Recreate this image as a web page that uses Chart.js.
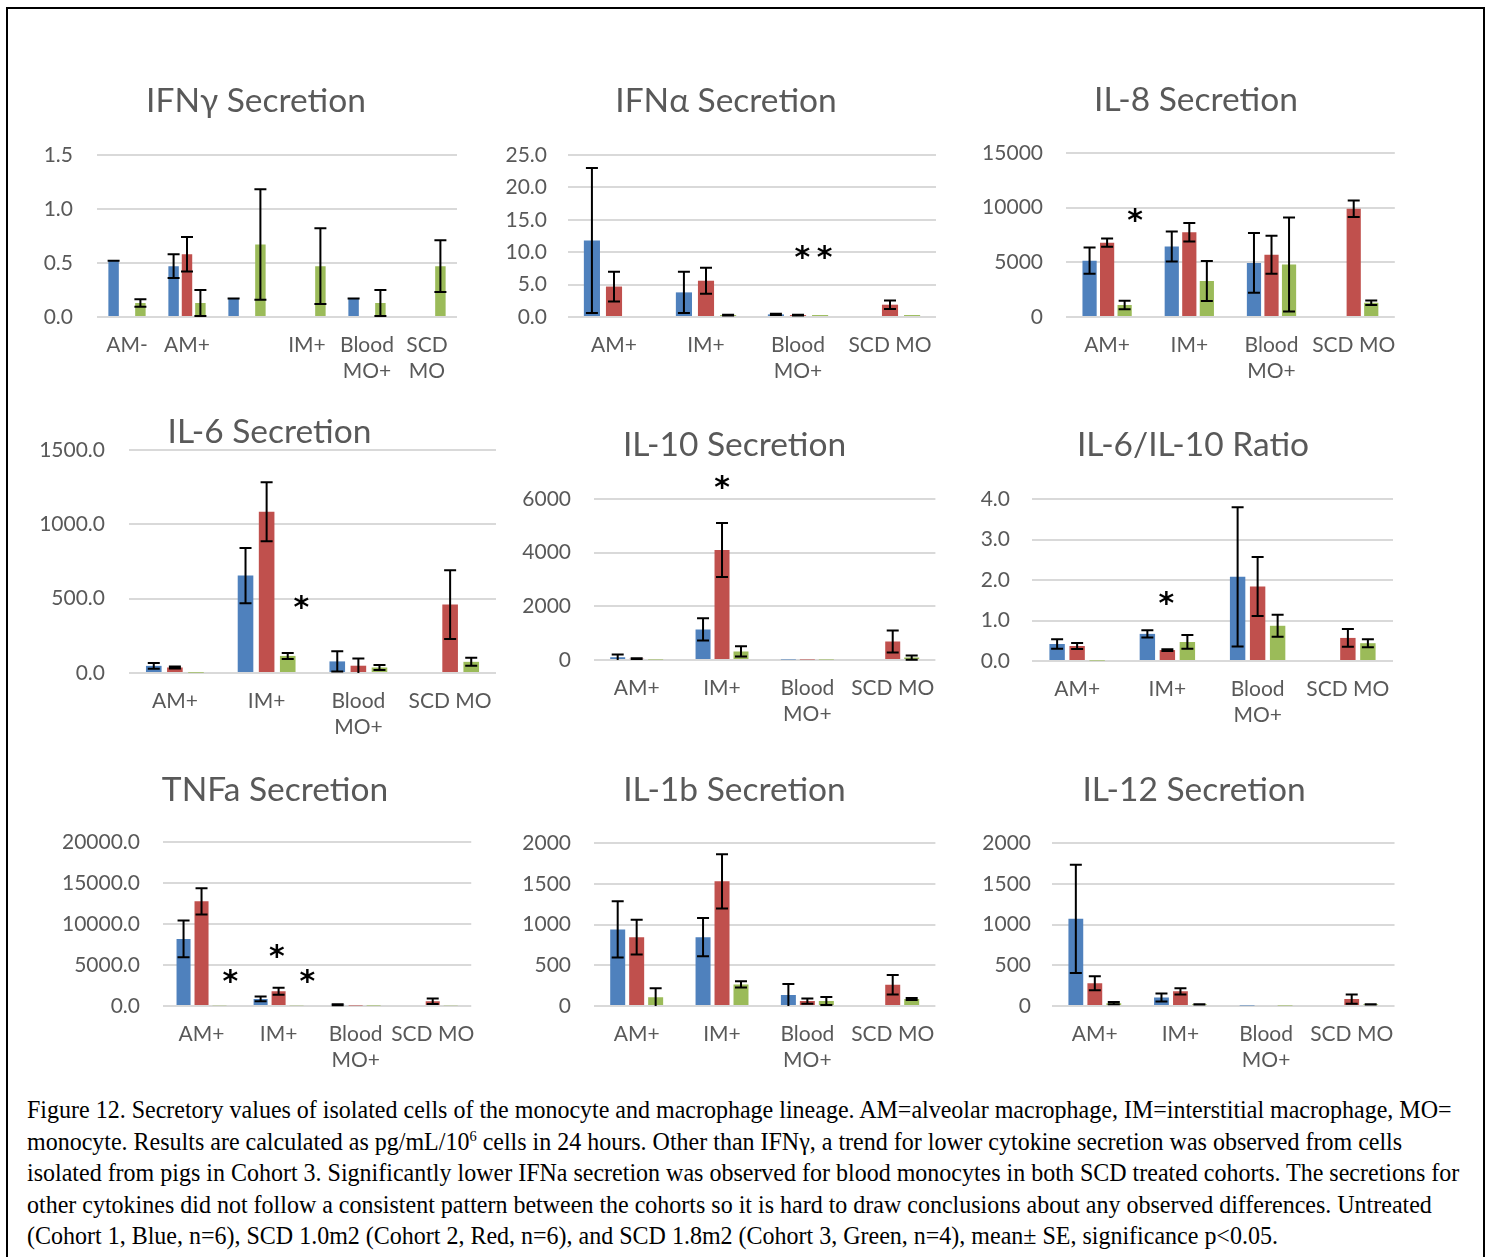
<!DOCTYPE html>
<html>
<head>
<meta charset="utf-8">
<script src="https://cdn.jsdelivr.net/npm/chart.js@4.4.1/dist/chart.umd.min.js"></script>
<style>
  html, body { margin: 0; padding: 0; background: #fff; }
  body { width: 1491px; height: 1257px; position: relative; overflow: hidden; }
  #frame { position: absolute; left: 6px; top: 7px; width: 1475px; height: 1300px; border: 2px solid #000; }
  canvas { position: absolute; }
  #caption { position: absolute; left: 27px; top: 1094px; font-family: "Liberation Serif", "Times New Roman", serif;
             font-size: 25px; line-height: 31.5px; color: #000; white-space: nowrap; transform-origin: 0 0; }
  #caption div { display: block; }
  #caption span { display: inline-block; }
  sup { font-size: 60%; vertical-align: 0; position: relative; top: -0.55em; line-height: 0; }
</style>
</head>
<body>
<div id="frame"></div>

<div id="caption">
  <div><span>Figure 12. Secretory values of isolated cells of the monocyte and macrophage lineage. AM=alveolar macrophage, IM=interstitial macrophage, MO=</span></div>
  <div><span>monocyte. Results are calculated as pg/mL/10<sup>6</sup> cells in 24 hours. Other than IFNγ, a trend for lower cytokine secretion was observed from cells</span></div>
  <div><span id="widestLine">isolated from pigs in Cohort 3. Significantly lower IFNa secretion was observed for blood monocytes in both SCD treated cohorts. The secretions for</span></div>
  <div><span>other cytokines did not follow a consistent pattern between the cohorts so it is hard to draw conclusions about any observed differences. Untreated</span></div>
  <div><span>(Cohort 1, Blue, n=6), SCD 1.0m2 (Cohort 2, Red, n=6), and SCD 1.8m2 (Cohort 3, Green, n=4), mean± SE, significance p&lt;0.05.</span></div>
</div>

<script>
// ---------- categories ----------
const ifngCategories = ['AM-', 'AM+', '', 'IM+', ['Blood', 'MO+'], ['SCD', 'MO']];
const cellCategories = ['AM+', 'IM+', ['Blood', 'MO+'], 'SCD MO'];

// ---------- IFNγ ----------
const ifngTicks      = [0, 0.5, 1.0, 1.5];
const ifngBlue       = [0.52, 0.47, 0.17, null, 0.17, null];
const ifngBlueErr    = [0, 0.11, 0, null, 0, null];
const ifngRed        = [null, 0.58, null, null, null, null];
const ifngRedErr     = [null, 0.16, null, null, null, null];
const ifngGreen      = [0.13, 0.13, 0.67, 0.47, 0.13, 0.47];
const ifngGreenErr   = [0.035, 0.12, 0.51, 0.35, 0.12, 0.24];
const ifngStars      = [];

// ---------- IFNα ----------
const ifnaTicks      = [0, 5, 10, 15, 20, 25];
const ifnaBlue       = [11.8, 3.8, 0.4, null];
const ifnaBlueErr    = [11.2, 3.2, 0.1, null];
const ifnaRed        = [4.7, 5.6, 0.3, 1.9];
const ifnaRedErr     = [2.3, 2.0, 0.05, 0.65];
const ifnaGreen      = [null, 0.3, 0.3, 0.3];
const ifnaGreenErr   = [null, 0.05, null, null];
const ifnaStars      = [[2, 1.2, 10], [2, 2.2, 10]];   // [category, bar slot, value]

// ---------- IL-8 ----------
const il8Ticks       = [0, 5000, 10000, 15000];
const il8Blue        = [5150, 6450, 4950, null];
const il8BlueErr     = [1200, 1370, 2730, null];
const il8Red         = [6800, 7750, 5700, 9900];
const il8RedErr      = [380, 850, 1740, 750];
const il8Green       = [1100, 3300, 4800, 1300];
const il8GreenErr    = [390, 1830, 4300, 200];
const il8Stars       = [[0, 2.6, 9300]];

// ---------- IL-6 ----------
const il6Ticks       = [0, 500, 1000, 1500];
const il6Blue        = [48, 655, 78, null];
const il6BlueErr     = [20, 185, 68, null];
const il6Red         = [37, 1085, 49, 460];
const il6RedErr      = [6, 198, 49, 231];
const il6Green       = [2, 115, 37, 75];
const il6GreenErr    = [null, 20, 17, 27];
const il6Stars       = [[1, 2.65, 475]];

// ---------- IL-10 ----------
const il10Ticks      = [0, 2000, 4000, 6000];
const il10Blue       = [100, 1140, 20, null];
const il10BlueErr    = [105, 415, null, null];
const il10Red        = [50, 4100, 20, 690];
const il10RedErr     = [15, 1010, null, 410];
const il10Green      = [20, 320, 20, 90];
const il10GreenErr   = [null, 190, null, 80];
const il10Stars      = [[1, 1, 6600]];

// ---------- IL-6/IL-10 ratio ----------
const ratioTicks     = [0, 1, 2, 3, 4];
const ratioBlue      = [0.42, 0.67, 2.08, null];
const ratioBlueErr   = [0.12, 0.09, 1.72, null];
const ratioRed       = [0.37, 0.27, 1.84, 0.57];
const ratioRedErr    = [0.075, 0.02, 0.73, 0.22];
const ratioGreen     = [0.01, 0.47, 0.87, 0.44];
const ratioGreenErr  = [null, 0.17, 0.27, 0.1];
const ratioStars     = [[1, 0.95, 1.55]];

// ---------- TNFa ----------
const tnfTicks       = [0, 5000, 10000, 15000, 20000];
const tnfBlue        = [8200, 870, 150, null];
const tnfBlueErr     = [2250, 300, 50, null];
const tnfRed         = [12800, 1800, 60, 580];
const tnfRedErr      = [1600, 420, null, 350];
const tnfGreen       = [100, 80, 60, 80];
const tnfGreenErr    = [null, null, null, null];
const tnfStars       = [[0, 2.6, 3590], [1, 0.9, 6650], [1, 2.6, 3590]];

// ---------- IL-1b ----------
const il1bTicks      = [0, 500, 1000, 1500, 2000];
const il1bBlue       = [940, 845, 135, null];
const il1bBlueErr    = [345, 234, 135, null];
const il1bRed        = [845, 1530, 60, 260];
const il1bRedErr     = [213, 334, 33, 120];
const il1bGreen      = [107, 265, 60, 85];
const il1bGreenErr   = [110, 39, 49, 12];
const il1bStars      = [];

// ---------- IL-12 ----------
const il12Ticks      = [0, 500, 1000, 1500, 2000];
const il12Blue       = [1070, 105, 5, null];
const il12BlueErr    = [665, 49, null, null];
const il12Red        = [280, 180, null, 85];
const il12RedErr     = [86, 39, null, 57];
const il12Green      = [35, 20, 5, 20];
const il12GreenErr   = [15, 3, null, 3];
const il12Stars      = [];

const panels = [
  { title: 'IFNγ Secretion',   cats: ifngCategories, ticks: ifngTicks,  dec: 1, blue: ifngBlue,  blueErr: ifngBlueErr,  red: ifngRed,  redErr: ifngRedErr,  green: ifngGreen,  greenErr: ifngGreenErr,  stars: ifngStars },
  { title: 'IFNα Secretion',   cats: cellCategories, ticks: ifnaTicks,  dec: 1, blue: ifnaBlue,  blueErr: ifnaBlueErr,  red: ifnaRed,  redErr: ifnaRedErr,  green: ifnaGreen,  greenErr: ifnaGreenErr,  stars: ifnaStars },
  { title: 'IL-8 Secretion',   cats: cellCategories, ticks: il8Ticks,   dec: 0, blue: il8Blue,   blueErr: il8BlueErr,   red: il8Red,   redErr: il8RedErr,   green: il8Green,   greenErr: il8GreenErr,   stars: il8Stars },
  { title: 'IL-6 Secretion',   cats: cellCategories, ticks: il6Ticks,   dec: 1, blue: il6Blue,   blueErr: il6BlueErr,   red: il6Red,   redErr: il6RedErr,   green: il6Green,   greenErr: il6GreenErr,   stars: il6Stars },
  { title: 'IL-10 Secretion',  cats: cellCategories, ticks: il10Ticks,  dec: 0, blue: il10Blue,  blueErr: il10BlueErr,  red: il10Red,  redErr: il10RedErr,  green: il10Green,  greenErr: il10GreenErr,  stars: il10Stars },
  { title: 'IL-6/IL-10 Ratio', cats: cellCategories, ticks: ratioTicks, dec: 1, blue: ratioBlue, blueErr: ratioBlueErr, red: ratioRed, redErr: ratioRedErr, green: ratioGreen, greenErr: ratioGreenErr, stars: ratioStars },
  { title: 'TNFa Secretion',   cats: cellCategories, ticks: tnfTicks,   dec: 1, blue: tnfBlue,   blueErr: tnfBlueErr,   red: tnfRed,   redErr: tnfRedErr,   green: tnfGreen,   greenErr: tnfGreenErr,   stars: tnfStars },
  { title: 'IL-1b Secretion',  cats: cellCategories, ticks: il1bTicks,  dec: 0, blue: il1bBlue,  blueErr: il1bBlueErr,  red: il1bRed,  redErr: il1bRedErr,  green: il1bGreen,  greenErr: il1bGreenErr,  stars: il1bStars },
  { title: 'IL-12 Secretion',  cats: cellCategories, ticks: il12Ticks,  dec: 0, blue: il12Blue,  blueErr: il12BlueErr,  red: il12Red,  redErr: il12RedErr,  green: il12Green,  greenErr: il12GreenErr,  stars: il12Stars },
];

// Page placement of each panel: canvas left, title centre, plot rectangle, tick-label edge, bar spacing.
const panelBoxes = [
  { left: 36,  titleX: 256,   titleY: 101, plotL: 97,   plotR: 457,  plotT: 155,   plotB: 317.5, labelR: 73,   cp: 0.67,  bp: 0.78 },
  { left: 496, titleX: 726,   titleY: 101, plotL: 568,  plotR: 936,  plotT: 155.3, plotB: 317.7, labelR: 547,  cp: 0.72,  bp: 0.73 },
  { left: 978, titleX: 1196,  titleY: 100, plotL: 1066, plotR: 1397, plotT: 153.3, plotB: 317.7, labelR: 1043, cp: 0.64,  bp: 0.81 },
  { left: 32,  titleX: 269.5, titleY: 430, plotL: 129,  plotR: 496,  plotT: 447.3, plotB: 673.3, labelR: 105,  cp: 0.69,  bp: 0.74 },
  { left: 516, titleX: 734.5, titleY: 445, plotL: 594,  plotR: 936,  plotT: 499.3, plotB: 660.7, labelR: 571,  cp: 0.667, bp: 0.79 },
  { left: 972, titleX: 1193,  titleY: 445, plotL: 1032, plotR: 1393, plotT: 499.3, plotB: 661,   labelR: 1010, cp: 0.665, bp: 0.77 },
  { left: 54,  titleX: 275,   titleY: 790, plotL: 163,  plotR: 476,  plotT: 842.7, plotB: 1006,  labelR: 140,  cp: 0.70,  bp: 0.78 },
  { left: 516, titleX: 734.5, titleY: 790, plotL: 594,  plotR: 936,  plotT: 843.3, plotB: 1006,  labelR: 571,  cp: 0.667, bp: 0.79 },
  { left: 976, titleX: 1194,  titleY: 790, plotL: 1052, plotR: 1395, plotT: 843.3, plotB: 1006,  labelR: 1031, cp: 0.665, bp: 0.78 },
];

const COLORS = ['#4f81bd', '#c0504d', '#9bbb59'];
const TEXT_GREY = '#595959';
const TITLE_SIZE = 33.5;
const X_AXIS_H = 80;

// Mean ± SE whiskers, drawn through the chart's own y scale.
function makeErrorBars(errorSets) {
  return {
    id: 'errorBars',
    afterDatasetsDraw(chart) {
      const ctx = chart.ctx, y = chart.scales.y;
      ctx.save();
      ctx.strokeStyle = '#000';
      ctx.lineWidth = 2;
      chart.data.datasets.forEach((ds, i) => {
        const errs = errorSets[i];
        chart.getDatasetMeta(i).data.forEach((bar, j) => {
          const v = ds.data[j], e = errs[j];
          if (v == null || e == null) return;
          const lowVal = v - e;
          const top = y.getPixelForValue(v + e);
          const bottom = y.getPixelForValue(Math.max(lowVal, y.min));
          const hw = 6;
          ctx.beginPath();
          ctx.moveTo(bar.x, top); ctx.lineTo(bar.x, bottom);
          ctx.moveTo(bar.x - hw, top); ctx.lineTo(bar.x + hw, top);
          if (lowVal > y.min) { ctx.moveTo(bar.x - hw, bottom); ctx.lineTo(bar.x + hw, bottom); }
          ctx.stroke();
        });
      });
      ctx.restore();
    }
  };
}

// Significance asterisks: [category, bar slot, value].
function makeStars(marks) {
  return {
    id: 'stars',
    afterDatasetsDraw(chart) {
      if (!marks.length) return;
      const ctx = chart.ctx, y = chart.scales.y;
      const m0 = chart.getDatasetMeta(0).data, m1 = chart.getDatasetMeta(1).data;
      ctx.save();
      ctx.fillStyle = '#000';
      ctx.font = 'bold 30px "DejaVu Sans"';
      ctx.textAlign = 'center';
      ctx.textBaseline = 'alphabetic';
      const tm = ctx.measureText('*');
      const shift = (tm.actualBoundingBoxAscent - tm.actualBoundingBoxDescent) / 2;
      marks.forEach(([cat, slot, value]) => {
        const slotW = m1[cat].x - m0[cat].x;
        const x = m0[cat].x + slot * slotW;
        ctx.fillText('*', x, y.getPixelForValue(value) + shift);
      });
      ctx.restore();
    }
  };
}

// Centre the chart title over the whole chart object (axis labels included).
function makeTitleCentre(centreX) {
  return {
    id: 'titleCentre',
    afterLayout(chart) {
      const t = chart.titleBlock;
      if (!t) return;
      const half = (t.right - t.left) / 2;
      t.left = centreX - half;
      t.right = centreX + half;
    }
  };
}

function buildPanel(p, box) {
  const top = box.titleY - TITLE_SIZE / 2;
  const width = Math.round(box.plotR + 6 - box.left);
  const padRight = box.left + width - box.plotR;
  const height = Math.round(box.plotB - top + X_AXIS_H);
  const canvas = document.createElement('canvas');
  canvas.width = width;
  canvas.height = height;
  canvas.style.left = box.left + 'px';
  canvas.style.top = top + 'px';
  document.body.appendChild(canvas);

  const tickFont = { family: 'Lato', size: 21, lineHeight: 26 / 21 };

  new Chart(canvas, {
    type: 'bar',
    data: {
      labels: p.cats,
      datasets: [
        { label: 'Untreated (Cohort 1)', data: p.blue,  backgroundColor: COLORS[0] },
        { label: 'SCD 1.0m2 (Cohort 2)', data: p.red,   backgroundColor: COLORS[1] },
        { label: 'SCD 1.8m2 (Cohort 3)', data: p.green, backgroundColor: COLORS[2] },
      ]
    },
    options: {
      responsive: false,
      animation: false,
      events: [],
      layout: { padding: { top: 0, left: 0, bottom: 0, right: padRight } },
      datasets: { bar: { categoryPercentage: box.cp, barPercentage: box.bp } },
      plugins: {
        legend: { display: false },
        tooltip: { enabled: false },
        title: {
          display: true,
          text: p.title,
          color: TEXT_GREY,
          font: { family: 'Lato', size: TITLE_SIZE, weight: 'normal', lineHeight: 1 },
          padding: { top: 0, bottom: box.plotT - top - TITLE_SIZE }
        }
      },
      scales: {
        x: {
          grid: { display: false },
          border: { display: false },
          ticks: { color: TEXT_GREY, font: tickFont, padding: 7, autoSkip: false, maxRotation: 0, minRotation: 0 },
          afterFit: s => { s.height = X_AXIS_H; }
        },
        y: {
          min: p.ticks[0],
          max: p.ticks[p.ticks.length - 1],
          grid: { color: '#d9d9d9', lineWidth: 2, drawTicks: false },
          border: { display: false },
          ticks: { color: TEXT_GREY, font: tickFont, padding: box.plotL - box.labelR,
                   callback: v => Number(v).toFixed(p.dec) },
          afterBuildTicks: s => { s.ticks = p.ticks.map(v => ({ value: v })); },
          afterFit: s => { s.width = box.plotL - box.left; }
        }
      }
    },
    plugins: [makeTitleCentre(box.titleX - box.left),
              makeErrorBars([p.blueErr, p.redErr, p.greenErr]),
              makeStars(p.stars)]
  });
}

panels.forEach((p, i) => buildPanel(p, panelBoxes[i]));

// Fit the caption block to the frame width.
const caption = document.getElementById('caption');
const widest = document.getElementById('widestLine');
caption.style.transform = 'scaleX(' + (1432 / widest.offsetWidth) + ')';
</script>
</body>
</html>
